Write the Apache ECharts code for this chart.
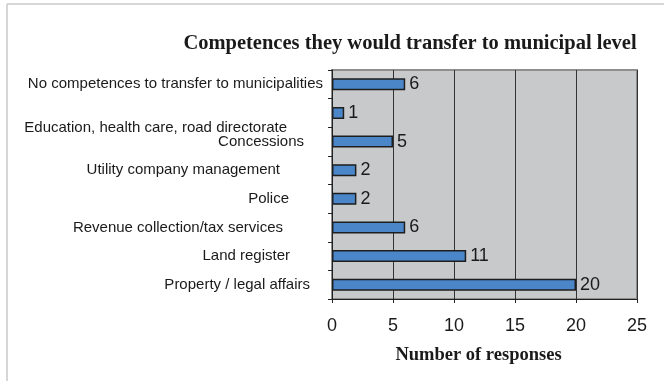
<!DOCTYPE html>
<html>
<head>
<meta charset="utf-8">
<style>
  html, body { margin: 0; padding: 0; background: #ffffff; }
  #chart { width: 664px; height: 381px; }
</style>
<script src="https://cdn.jsdelivr.net/npm/echarts@6/dist/echarts.min.js"></script>
</head>
<body>
<div id="chart"></div>
<script>
// Categories listed top to bottom
const categories = [
  'No competences to transfer to municipalities',
  'Education, health care, road directorate',
  'Concessions',
  'Utility company management',
  'Police',
  'Revenue collection/tax services',
  'Land register',
  'Property / legal affairs'
];
const responses = [6, 1, 5, 2, 2, 6, 11, 20];
const xTicks = [0, 5, 10, 15, 20, 25];

// Per-label placement tweaks: [top padding, right padding]
const labelShift = [
  [0, 0], [30, 36], [0, 19], [0, 43], [0, 34], [0, 40], [0, 33], [0, 13]
];

const rich = {};
labelShift.forEach((s, i) => {
  rich['c' + i] = {
    fontFamily: 'Liberation Sans, Arial, sans-serif',
    fontSize: 15,
    color: '#1a1a1a',
    padding: [s[0], s[1], 0, 0]
  };
});

const chart = echarts.init(document.getElementById('chart'));
chart.setOption({
  backgroundColor: '#ffffff',
  animation: false,
  title: {
    text: 'Competences they would transfer to municipal level',
    left: 410,
    top: 33,
    padding: 0,
    textAlign: 'center',
    textStyle: {
      fontFamily: 'Liberation Serif, Times New Roman, serif',
      fontWeight: 'bold',
      fontSize: 20.5,
      color: '#1a1a1a'
    }
  },
  graphic: [
    { type: 'line', shape: { x1: 7, y1: 4, x2: 664, y2: 4 }, style: { stroke: '#c8c8c8', lineWidth: 1.5 } },
    { type: 'line', shape: { x1: 7, y1: 4, x2: 7, y2: 381 }, style: { stroke: '#c8c8c8', lineWidth: 1.5 } }
  ],
  grid: {
    left: 332, top: 70, right: 27, bottom: 82,
    show: true,
    backgroundColor: '#c8c9cb',
    borderColor: '#8e8e8e',
    borderWidth: 2
  },
  xAxis: {
    type: 'value',
    min: xTicks[0],
    max: xTicks[xTicks.length - 1],
    interval: xTicks[1] - xTicks[0],
    name: 'Number of responses',
    nameLocation: 'middle',
    nameGap: 47,
    nameTextStyle: {
      fontFamily: 'Liberation Serif, Times New Roman, serif',
      fontWeight: 'bold',
      fontSize: 18.5,
      color: '#1a1a1a',
      padding: [0, 12, 0, 0]
    },
    axisLine: { show: true, lineStyle: { color: '#222', width: 1 } },
    axisTick: { show: true, length: 4, lineStyle: { color: '#222' } },
    axisLabel: {
      margin: 18,
      fontFamily: 'Liberation Sans, Arial, sans-serif',
      fontSize: 18,
      color: '#1a1a1a'
    },
    splitLine: { show: true, lineStyle: { color: '#333', width: 1 } }
  },
  yAxis: {
    type: 'category',
    inverse: true,
    data: categories,
    axisLine: { show: true, lineStyle: { color: '#222', width: 1 } },
    axisTick: { show: true, length: 4, lineStyle: { color: '#222' } },
    axisLabel: {
      margin: 9,
      formatter: (value, idx) => '{c' + idx + '|' + value + '}',
      rich: rich
    },
    splitLine: { show: false }
  },
  series: [{
    type: 'bar',
    data: responses,
    barWidth: 12,
    itemStyle: { color: '#4a86c8', borderColor: '#1e1e1e', borderWidth: 1.5 },
    label: {
      show: true,
      position: 'right',
      distance: 4,
      fontFamily: 'Liberation Sans, Arial, sans-serif',
      fontSize: 18,
      color: '#1a1a1a'
    }
  }]
});
</script>
</body>
</html>
